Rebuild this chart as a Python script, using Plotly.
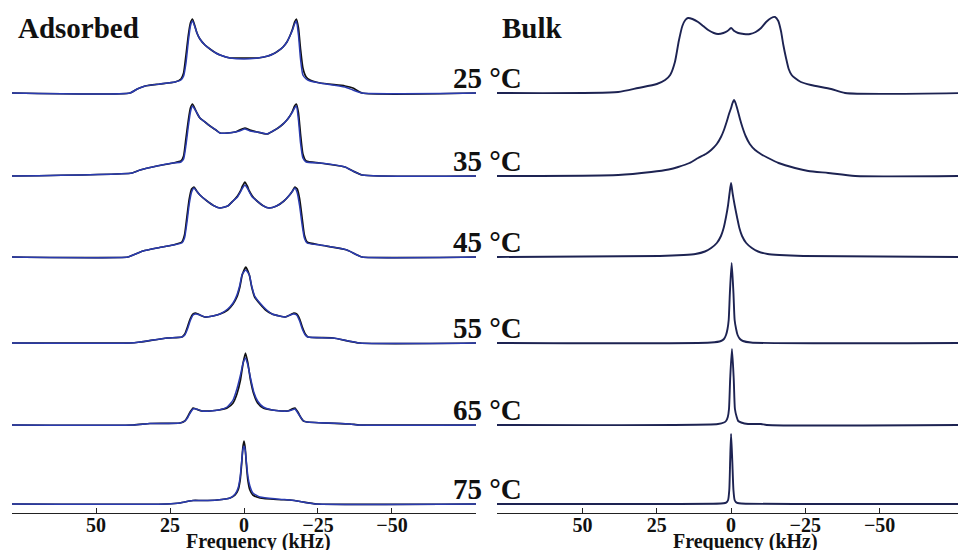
import plotly.graph_objects as go

# ---------------- data (frequency in kHz, intensity in arbitrary units) ----------------
temps = ["25 °C", "35 °C", "45 °C", "55 °C", "65 °C", "75 °C"]
tick_vals = [50, 25, 0, -25, -50]
tick_text = ["50", "25", "0", "\u221225", "\u221250"]
axis_title = "Frequency (kHz)"

# Adsorbed: experimental (black) and simulated fit (blue)
ads25_f = [78.4, 38.5, 36.1, 33.4, 28.4, 23.3, 21.3, 20.4, 19.6, 18.8, 18.1, 17.4, 16.7, 15.9, 14.9, 13.2,
           11.5, 9.5, 8.1, 4.7, 0.0, -4.7, -8.1, -9.8, -11.5, -13.2, -14.5, -15.5, -16.4, -17.1, -17.7,
           -18.4, -19.1, -19.9, -21.0, -22.3, -25.7, -34.1, -36.8, -39.9, -78.4]
ads25_exp = [0, 0, 4, 7, 9, 11, 14, 20, 38, 58, 70, 74, 68, 60, 54, 48,
             44, 40, 38, 35, 35, 35, 37, 39, 42, 46, 51, 57, 64, 71, 74,
             65, 44, 25, 16, 13, 10, 7, 5, 0, 0]
ads25_fit = [0, 0, 4, 7, 9, 11, 13, 17, 30, 52, 67, 72, 67, 60, 54, 48,
             44, 40, 38, 35, 34, 35, 37, 39, 42, 46, 51, 57, 63, 69, 72,
             58, 34, 18, 14, 12, 10, 6, 3, 0, 0]

ads35_f = [78.4, 37.8, 35.1, 29.4, 24.0, 21.3, 20.4, 19.6, 18.8, 18.1, 17.4, 16.7, 15.9, 14.9, 13.2,
           11.5, 9.5, 8.1, 5.5, 3.0, 1.5, -0.3, -2.0, -4.4, -7.8, -9.8, -11.5, -13.2, -14.5, -15.5,
           -16.4, -17.1, -17.7, -18.4, -19.1, -19.9, -21.0, -25.7, -34.1, -36.8, -39.9, -78.4]
ads35_exp = [0, 3, 6, 10, 13, 15, 20, 38, 56, 68, 72, 68, 63, 58, 54,
             50, 46, 43, 43, 44, 46, 48, 46, 44, 42, 45, 48, 52, 56, 60,
             65, 70, 72, 63, 42, 22, 15, 13, 9, 5, 1, 0]
ads35_fit = [0, 3, 6, 10, 13, 14, 17, 31, 50, 64, 70, 67, 63, 58, 54,
             50, 46, 43, 43, 44, 45, 47, 45, 44, 42, 45, 48, 52, 56, 60,
             64, 68, 70, 56, 33, 18, 14, 13, 9, 5, 1, 0]

ads45_f = [78.4, 39.2, 37.5, 34.1, 29.4, 24.0, 21.0, 20.1, 19.3, 18.5, 17.7, 16.9, 16.0, 14.9, 12.5, 10.0,
           8.1, 5.5, 3.7, 2.2, 1.2, 0.5, -0.3, -1.1, -1.8, -2.8, -4.4, -6.6, -8.5, -11.0, -13.5,
           -15.4, -16.4, -17.2, -18.0, -18.8, -19.6, -20.4, -21.3, -25.7, -34.8, -38.2, -39.9, -78.4]
ads45_exp = [0, 0, 2, 6, 9, 12, 15, 22, 40, 58, 68, 70, 66, 62, 56, 51,
             49, 51, 56, 61, 66, 71, 75, 71, 66, 61, 56, 51, 49, 51, 56,
             62, 66, 70, 68, 58, 40, 22, 15, 12, 7, 2, 0, 0]
ads45_fit = [0, 0, 2, 6, 9, 12, 14, 19, 34, 53, 65, 69, 66, 62, 56, 51,
             49, 51, 56, 60, 65, 69, 72, 69, 65, 60, 56, 51, 49, 51, 56,
             62, 66, 69, 64, 51, 33, 19, 14, 12, 7, 2, 0, 0]

ads55_f = [78.4, 38.5, 35.1, 26.0, 21.0, 20.0, 19.1, 18.2, 17.2, 16.3, 14.9, 13.2, 10.5, 8.1, 5.5, 3.7,
           2.4, 1.4, 0.6, -0.6, -1.8, -2.6, -3.6, -5.4, -7.3, -9.5, -12.0, -14.0, -15.6, -16.8,
           -17.8, -18.8, -19.7, -20.7, -21.6, -30.1, -39.2, -78.4]
ads55_exp = [0, 0, 1, 5, 6, 9, 16, 24, 29, 30, 28, 26, 27, 29, 33, 39,
             46, 56, 68, 76, 68, 56, 46, 39, 33, 29, 27, 26, 28, 30,
             29, 24, 16, 9, 6, 5, 0, 0]
ads55_fit = [0, 0, 1, 5, 6, 8, 14, 22, 28, 29, 28, 26, 27, 29, 34, 40,
             48, 58, 69, 73, 68, 57, 47, 40, 34, 29, 27, 26, 28, 29,
             28, 22, 14, 8, 6, 5, 0, 0]

ads65_f = [78.4, 37.5, 31.8, 21.6, 20.0, 19.1, 18.2, 17.2, 16.2, 14.2, 11.5, 8.5, 5.7, 3.7, 2.4, 1.2,
           0.3, -0.5, -1.3, -2.2, -3.3, -4.6, -6.5, -9.5, -12.5, -14.7, -16.2, -17.2, -18.2,
           -19.1, -20.1, -21.3, -35.8, -39.2, -78.4]
ads65_exp = [0, 0, 1.5, 2, 4, 8, 13, 17, 16, 14, 14, 15, 17, 22, 31, 45,
             62, 72, 62, 45, 31, 22, 17, 15, 14, 14, 16, 17, 13,
             8, 4, 3, 1, 0, 0]
ads65_fit = [0, 0, 1.5, 2, 4, 7, 12, 16, 16, 14, 14, 15, 18, 25, 36, 50,
             62, 67, 60, 47, 33, 24, 18, 15, 14, 14, 15, 16, 12,
             8, 4, 3, 1, 0, 0]

ads75_f = [78.4, 26.0, 21.6, 18.5, 17.2, 14.0, 9.1, 4.7, 3.0, 2.0, 1.3, 0.8, 0.4, 0.0,
           -0.4, -0.8, -1.3, -2.0, -3.0, -5.4, -11.0, -15.5, -17.0, -19.9, -24.7, -78.4]
ads75_exp = [0, 0, 1, 3, 3.5, 3.5, 4, 6, 9, 14, 24, 40, 56, 63,
             56, 40, 24, 14, 9, 6, 4.5, 4, 3.5, 2, 0, 0]
ads75_fit = [0, 0, 1, 3, 3.5, 3.5, 4, 6, 10, 16, 27, 42, 54, 58,
             54, 42, 28, 18, 11, 7, 5, 4, 3.5, 2, 0, 0]

# Bulk spectra
blk25_f = [78.8, 38.0, 31.3, 25.0, 22.2, 20.5, 18.9, 17.6, 16.4, 15.4, 14.5, 13.0, 11.1, 9.4, 7.7, 5.8,
           4.4, 2.6, 1.2, 0.0, -1.1, -2.4, -4.3, -6.4, -8.3, -10.1, -11.8, -13.5, -14.8, -15.9,
           -16.8, -17.6, -18.5, -19.4, -20.4, -21.5, -23.5, -26.9, -33.7, -38.4, -78.4]
blk25_y = [0, 1, 5, 9, 13, 18, 31, 52, 67, 73, 75, 74, 71, 67, 63, 60,
           59, 60, 62, 65, 62, 60, 59, 59, 61, 65, 71, 75, 76, 72,
           62, 48, 35, 24, 18, 15, 11, 8, 4, 0, 0]

blk35_f = [78.8, 38.0, 26.9, 21.0, 17.8, 14.0, 11.1, 8.5, 6.7, 4.8, 3.4, 2.4, 1.5, 0.7, 0.0, -0.5, -1.0,
           -1.5, -2.2, -3.0, -3.8, -4.9, -6.3, -8.1, -10.0, -12.5, -16.0, -21.5, -26.0, -32.7, -41.8, -78.4]
blk35_y = [0, 1, 4, 6.5, 9, 13, 18, 22, 26, 32, 39, 46, 54, 62, 68, 73, 76,
           73, 66, 57, 49, 40, 32, 26, 22, 18, 13, 8, 5, 3, 0, 0]

blk45_f = [78.8, 24.0, 16.0, 12.0, 8.8, 6.7, 4.8, 3.4, 2.5, 1.7, 1.0, 0.5, 0.0,
           -0.5, -1.2, -2.0, -2.8, -3.7, -5.1, -7.0, -9.1, -12.3, -16.3, -24.3, -78.4]
blk45_y = [0, 1, 2, 3, 5.5, 9, 14, 21, 29, 40, 52, 64, 74,
           64, 52, 40, 29, 21, 14, 9, 5.5, 3, 2, 1, 0]

blk55_f = [78.8, 6.7, 3.4, 2.4, 1.7, 1.2, 0.8, 0.4, -0.2, -0.8, -1.2, -1.7, -2.2, -3.0, -4.0, -6.7, -78.4]
blk55_y = [0, 0.5, 2, 4, 8, 14, 23, 50, 80, 50, 23, 14, 8, 4, 2, 0.5, 0]

blk65_f = [78.8, 4.4, 2.4, 1.7, 1.1, 0.7, 0.3, -0.3, -0.9, -1.3, -1.9, -2.4, -3.4, -5.7, -10.1, -12.0, -78.4]
blk65_y = [0, 1, 2.5, 4, 8, 16, 46, 76, 46, 16, 8, 4, 2.5, 1, 1, 0, 0]

blk75_f = [78.8, 3.4, 2.0, 1.4, 1.0, 0.6, 0.3, 0.0, -0.4, -0.8, -1.2, -1.6, -2.2, -3.4, -78.4]
blk75_y = [0, 0.5, 1, 2, 4, 14, 44, 70, 44, 14, 4, 2, 1, 0.5, 0]

ads_f = [ads25_f, ads35_f, ads45_f, ads55_f, ads65_f, ads75_f]
ads_exp = [ads25_exp, ads35_exp, ads45_exp, ads55_exp, ads65_exp, ads75_exp]
ads_fit = [ads25_fit, ads35_fit, ads45_fit, ads55_fit, ads65_fit, ads75_fit]
blk_f = [blk25_f, blk35_f, blk45_f, blk55_f, blk65_f, blk75_f]
blk_y = [blk25_y, blk35_y, blk45_y, blk55_y, blk65_y, blk75_y]

# ---------------- layout helpers ----------------
W, H = 958, 550
baselines_px = [93, 176, 257, 343, 425, 504]
below, above = 9, 83          # axis units (~px) below / above each baseline
left_dom = [12 / W, 476 / W]
right_dom = [497 / W, 1.0]
left_rng = [78.4, -78.4]
right_rng = [78.8, -76.4]

SERIF = "Liberation Serif, Times New Roman, serif"
BLACK = "#111111"
BLUE = "#2a3bb0"
NAVY = "#1d2352"

fig = go.Figure()
layout = dict(
    width=W, height=H,
    margin=dict(l=0, r=0, t=0, b=0),
    paper_bgcolor="white", plot_bgcolor="rgba(0,0,0,0)",
    showlegend=False,
)

for i in range(6):
    b = baselines_px[i]
    ydom = [1 - (b + below) / H, 1 - (b - above) / H]
    for c in range(2):
        k = i * 2 + c + 1
        xa = "x" if k == 1 else f"x{k}"
        ya = "y" if k == 1 else f"y{k}"
        xkey = "xaxis" if k == 1 else f"xaxis{k}"
        ykey = "yaxis" if k == 1 else f"yaxis{k}"
        bottom = (i == 5)
        layout[xkey] = dict(
            domain=left_dom if c == 0 else right_dom,
            range=left_rng if c == 0 else right_rng,
            anchor=ya, showgrid=False, zeroline=False,
            visible=bottom,
            showline=bottom, linecolor="#222222", linewidth=1.3,
            ticks="inside" if bottom else "", ticklen=5, tickwidth=1.2, tickcolor="#222222",
            tickvals=tick_vals, ticktext=[f"<b>{t}</b>" for t in tick_text],
            tickfont=dict(family=SERIF, size=20, color="#111111"),
            ticklabelstandoff=-6,
            automargin=False,
        )
        layout[ykey] = dict(
            domain=ydom, range=[-below, above], anchor=xa,
            visible=False, showgrid=False, zeroline=False, fixedrange=True,
        )
        if c == 0:
            fig.add_trace(go.Scatter(x=ads_f[i], y=ads_exp[i], xaxis=xa, yaxis=ya, mode="lines",
                                     line=dict(color=BLACK, width=1.7, shape="spline", smoothing=0.5),
                                     hoverinfo="skip"))
            fig.add_trace(go.Scatter(x=ads_f[i], y=ads_fit[i], xaxis=xa, yaxis=ya, mode="lines",
                                     line=dict(color=BLUE, width=1.5, shape="spline", smoothing=0.5),
                                     hoverinfo="skip"))
        else:
            fig.add_trace(go.Scatter(x=blk_f[i], y=blk_y[i], xaxis=xa, yaxis=ya, mode="lines",
                                     line=dict(color=NAVY, width=1.9, shape="spline", smoothing=0.6),
                                     hoverinfo="skip"))

annotations = [
    dict(text="<b>Adsorbed</b>", x=16 / W, y=1 - 28 / H, xref="paper", yref="paper",
         xanchor="left", yanchor="middle", showarrow=False,
         font=dict(family=SERIF, size=29, color="#111111")),
    dict(text="<b>Bulk</b>", x=500 / W, y=1 - 28 / H, xref="paper", yref="paper",
         xanchor="left", yanchor="middle", showarrow=False,
         font=dict(family=SERIF, size=29, color="#111111")),
]
for c, dom in enumerate([left_dom, right_dom]):
    # axis title: centred under the zero-frequency position of each panel
    rng = left_rng if c == 0 else right_rng
    zero_px = dom[0] * W + (dom[1] - dom[0]) * W * (rng[0] - 0) / (rng[0] - rng[1])
    annotations.append(dict(text=f"<b>{axis_title}</b>", x=(zero_px + 14) / W, y=1 - 541 / H,
                            xref="paper", yref="paper", xanchor="center", yanchor="middle",
                            showarrow=False, font=dict(family=SERIF, size=20, color="#111111")))
for i, t in enumerate(temps):
    cy = baselines_px[i] - 15
    annotations.append(dict(text=f"<b>{t}</b>", x=487 / W, y=1 - cy / H, xref="paper", yref="paper",
                            xanchor="center", yanchor="middle", showarrow=False,
                            font=dict(family=SERIF, size=29, color="#111111")))
layout["annotations"] = annotations

fig.update_layout(**layout)
fig.write_html("out.html")
